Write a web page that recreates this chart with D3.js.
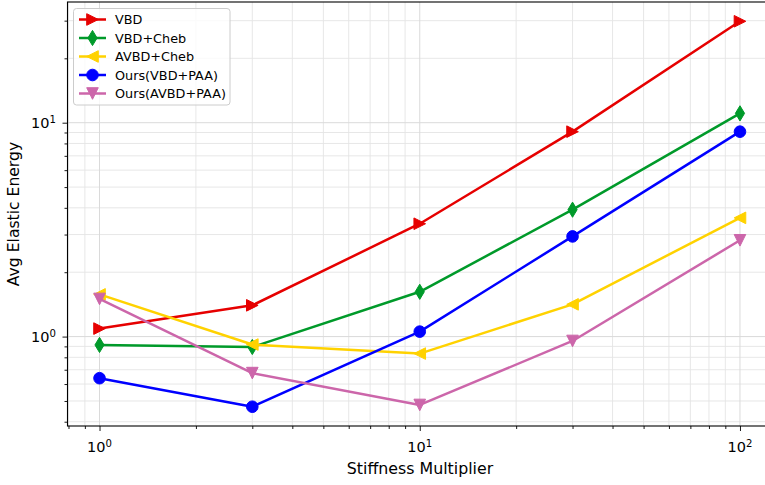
<!DOCTYPE html>
<html>
<head>
<meta charset="utf-8">
<script src="https://cdn.jsdelivr.net/npm/d3@7"></script>
<style>
  body { margin: 0; background: #fff; }
  svg { display: block; font-family: "DejaVu Sans", sans-serif; }
</style>
</head>
<body>
<script>
// data
const stiffness = [1, 3, 10, 30, 100];
const vbd = [1.09, 1.40, 3.37, 9.08, 29.8];
const vbdCheb = [0.914, 0.894, 1.62, 3.92, 11.06];
const avbdCheb = [1.575, 0.918, 0.833, 1.415, 3.59];
const oursVbd = [0.639, 0.47, 1.055, 2.94, 9.08];
const oursAvbd = [1.50, 0.675, 0.479, 0.954, 2.82];

const seriesNames = ["VBD", "VBD+Cheb", "AVBD+Cheb", "Ours(VBD+PAA)", "Ours(AVBD+PAA)"];
const seriesValues = [vbd, vbdCheb, avbdCheb, oursVbd, oursAvbd];
const seriesColors = ["#e60000", "#009a2a", "#ffd200", "#0000ff", "#cc66aa"];
const seriesMarkers = [">", "d", "<", "o", "v"];

const xTickMajor = [1, 10, 100];
const yTickMajor = [1, 10];

const width = 765, height = 485;
const plotLeft = 67.5, plotRight = 772, plotTop = 2, plotBottom = 426;

// matplotlib-like 5% margins in log space
function logDomain(vals) {
  const lo = Math.log10(d3.min(vals)), hi = Math.log10(d3.max(vals));
  const pad = (hi - lo) * 0.05;
  return [Math.pow(10, lo - pad), Math.pow(10, hi + pad)];
}

const x = d3.scaleLog().domain(logDomain(stiffness)).range([plotLeft, plotRight]);
const y = d3.scaleLog().domain(logDomain(seriesValues.flat())).range([plotBottom, plotTop]);

function minorTicks(scale) {
  const [a, b] = scale.domain();
  const out = [];
  for (let e = Math.floor(Math.log10(a)); e <= Math.ceil(Math.log10(b)); e++) {
    for (let m = 2; m <= 9; m++) {
      const v = m * Math.pow(10, e);
      if (v >= a && v <= b) out.push(v);
    }
  }
  return out;
}

const svg = d3.select("body").append("svg")
  .attr("width", width).attr("height", height);

const grid = svg.append("g").attr("class", "grid");
grid.selectAll(".gxm").data(minorTicks(x)).enter().append("line")
  .attr("x1", d => x(d)).attr("x2", d => x(d))
  .attr("y1", plotTop).attr("y2", plotBottom)
  .attr("stroke", "#e4e4e4").attr("stroke-width", 0.9);
grid.selectAll(".gym").data(minorTicks(y)).enter().append("line")
  .attr("y1", d => y(d)).attr("y2", d => y(d))
  .attr("x1", plotLeft).attr("x2", plotRight)
  .attr("stroke", "#e4e4e4").attr("stroke-width", 0.9);
grid.selectAll(".gxM").data(xTickMajor).enter().append("line")
  .attr("x1", d => x(d)).attr("x2", d => x(d))
  .attr("y1", plotTop).attr("y2", plotBottom)
  .attr("stroke", "#dadada").attr("stroke-width", 1);
grid.selectAll(".gyM").data(yTickMajor).enter().append("line")
  .attr("y1", d => y(d)).attr("y2", d => y(d))
  .attr("x1", plotLeft).attr("x2", plotRight)
  .attr("stroke", "#dadada").attr("stroke-width", 1);

// axes
const xAxis = d3.axisBottom(x).tickValues(xTickMajor).tickSize(5).tickFormat("");
const xAxisMinor = d3.axisBottom(x).tickValues(minorTicks(x)).tickSize(3).tickFormat("");
const yAxis = d3.axisLeft(y).tickValues(yTickMajor).tickSize(5).tickFormat("");
const yAxisMinor = d3.axisLeft(y).tickValues(minorTicks(y)).tickSize(3).tickFormat("");

[xAxis, xAxisMinor].forEach(ax => {
  svg.append("g").attr("transform", `translate(0,${plotBottom})`).call(ax)
    .call(g => g.select(".domain").remove())
    .selectAll("line").attr("stroke", "#000").attr("stroke-width", 0.9);
});
[yAxis, yAxisMinor].forEach(ax => {
  svg.append("g").attr("transform", `translate(${plotLeft},0)`).call(ax)
    .call(g => g.select(".domain").remove())
    .selectAll("line").attr("stroke", "#000").attr("stroke-width", 0.9);
});

function powLabel(sel, v) {
  sel.append("tspan").text("10");
  sel.append("tspan").attr("font-size", "70%").attr("dy", "-0.45em")
    .text(Math.round(Math.log10(v)));
}

svg.append("g").selectAll("text").data(xTickMajor).enter().append("text")
  .attr("x", d => x(d)).attr("y", 452)
  .attr("text-anchor", "middle").attr("font-size", 14.5).attr("fill", "#000")
  .each(function (d) { powLabel(d3.select(this), d); });

svg.append("g").selectAll("text").data(yTickMajor).enter().append("text")
  .attr("x", 56).attr("y", d => y(d) + 5)
  .attr("text-anchor", "end").attr("font-size", 14.5).attr("fill", "#000")
  .each(function (d) { powLabel(d3.select(this), d); });

// series
function markerPath(type) {
  const h = 5.8;
  if (type === ">") return `M${h},0L${-h},${-h}L${-h},${h}Z`;
  if (type === "<") return `M${-h},0L${h},${-h}L${h},${h}Z`;
  if (type === "v") return `M0,${h}L${-h},${-h}L${h},${-h}Z`;
  if (type === "d") return `M0,-7.6L4.6,0L0,7.6L-4.6,0Z`;
  return d3.symbol(d3.symbolCircle, Math.PI * 5.8 * 5.8)();
}

const plot = svg.append("g");
const line = d3.line().x(d => x(d[0])).y(d => y(d[1]));

seriesNames.forEach((name, i) => {
  const pts = stiffness.map((s, j) => [s, seriesValues[i][j]]);
  const g = plot.append("g").attr("class", "series");
  g.append("path").datum(pts).attr("d", line)
    .attr("fill", "none").attr("stroke", seriesColors[i])
    .attr("stroke-width", 2.5).attr("stroke-linejoin", "round");
  g.selectAll(".m").data(pts).enter().append("path")
    .attr("d", markerPath(seriesMarkers[i]))
    .attr("transform", d => `translate(${x(d[0])},${y(d[1])})`)
    .attr("fill", seriesColors[i]).attr("stroke", seriesColors[i]).attr("stroke-width", 1);
});

// frame
svg.append("rect").attr("x", plotLeft).attr("y", plotTop)
  .attr("width", plotRight - plotLeft).attr("height", plotBottom - plotTop)
  .attr("fill", "none").attr("stroke", "#000").attr("stroke-width", 1.1);

// axis labels
svg.append("text").attr("x", 420).attr("y", 474)
  .attr("text-anchor", "middle").attr("font-size", 15.8).attr("fill", "#000")
  .text("Stiffness Multiplier");
svg.append("text").attr("transform", `translate(19,${(plotTop + plotBottom) / 2}) rotate(-90)`)
  .attr("text-anchor", "middle").attr("font-size", 15.6).attr("fill", "#000")
  .text("Avg Elastic Energy");

// legend
const legend = svg.append("g");
legend.append("rect").attr("x", 73.5).attr("y", 8.5).attr("width", 156.5).attr("height", 96.5)
  .attr("rx", 3).attr("fill", "#fff").attr("fill-opacity", 0.8)
  .attr("stroke", "#cccccc").attr("stroke-width", 1);
const item = legend.selectAll(".item").data(seriesNames).enter().append("g")
  .attr("transform", (d, i) => `translate(0,${19.5 + i * 18.5})`);
item.append("line").attr("x1", 79).attr("x2", 106).attr("y1", 0).attr("y2", 0)
  .attr("stroke", (d, i) => seriesColors[i]).attr("stroke-width", 2.5);
item.append("path").attr("d", (d, i) => markerPath(seriesMarkers[i]))
  .attr("transform", "translate(92.5,0)")
  .attr("fill", (d, i) => seriesColors[i]).attr("stroke", (d, i) => seriesColors[i]);
item.append("text").attr("x", 115).attr("y", 4.5)
  .attr("font-size", 12.8).attr("fill", "#000").text(d => d);
</script>
</body>
</html>
